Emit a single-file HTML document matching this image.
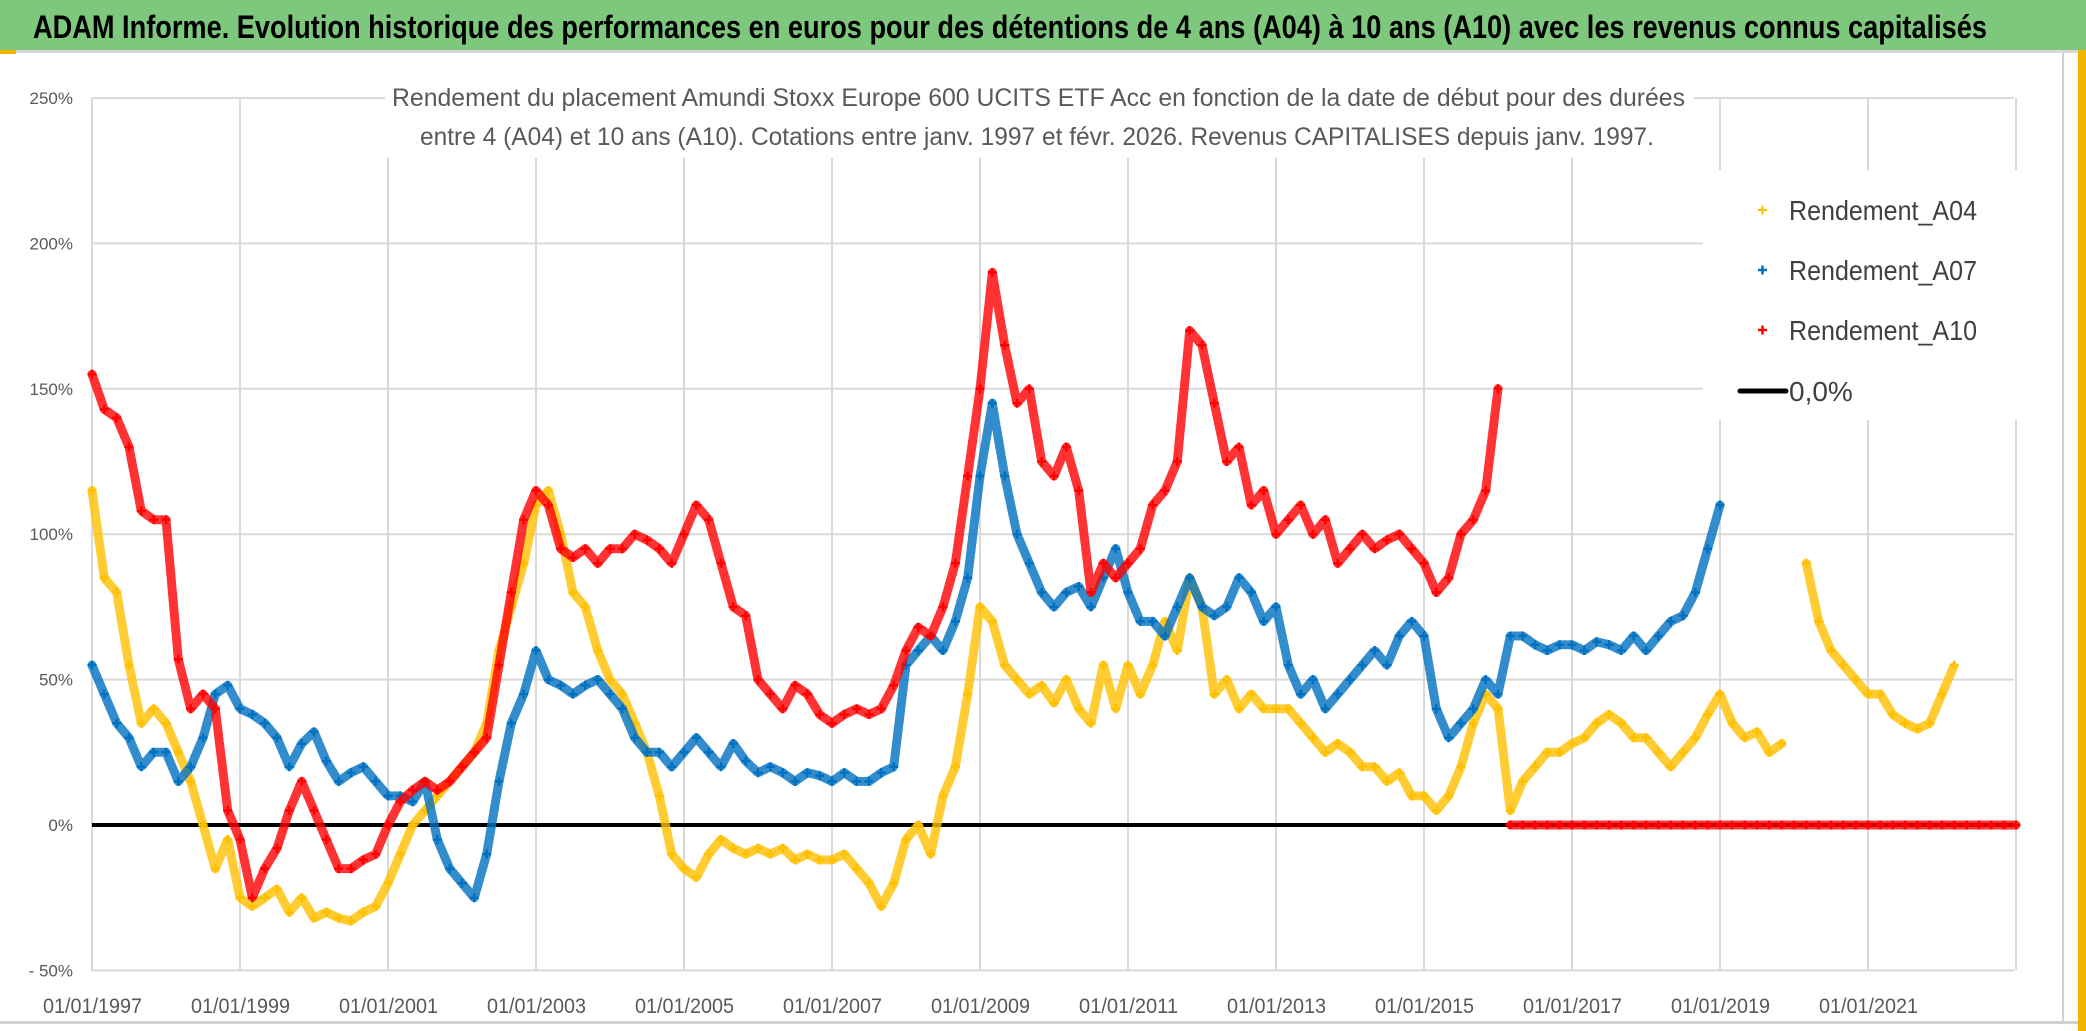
<!DOCTYPE html>
<html><head><meta charset="utf-8"><style>
html,body{margin:0;padding:0;background:#fff;}
svg{display:block;font-family:"Liberation Sans",sans-serif;}
</style></head><body>
<svg id="chart" width="2086" height="1031" viewBox="0 0 2086 1031" xmlns="http://www.w3.org/2000/svg">
<rect x="0" y="0" width="2086" height="1031" fill="#fff"/>
<rect x="0" y="0" width="2086" height="50" fill="#7dc87d"/>
<rect x="0" y="50" width="2086" height="3" fill="#d8d8d8"/>
<text x="33" y="38" font-size="32" font-weight="bold" fill="#000" textLength="1954" lengthAdjust="spacingAndGlyphs">ADAM Informe. Evolution historique des performances en euros pour des détentions de 4 ans (A04) à 10 ans (A10) avec les revenus connus capitalisés</text>
<rect x="2062" y="53" width="2" height="970" fill="#d0d0d0"/>
<rect x="0" y="1021" width="2086" height="3" fill="#d0d0d0"/>
<rect x="2078" y="50" width="8" height="981" fill="#f2b600"/>
<rect x="0" y="50" width="16" height="4" fill="#f2b600"/>
<g id="grid"></g>
<rect x="385" y="68" width="1309" height="90" fill="#fff"/>
<text x="392" y="106" font-size="25" fill="#595959" textLength="1293" lengthAdjust="spacingAndGlyphs">Rendement du placement Amundi Stoxx Europe 600 UCITS ETF Acc en fonction de la date de début pour des durées</text>
<text x="420" y="145" font-size="25" fill="#595959" textLength="1234" lengthAdjust="spacingAndGlyphs">entre 4 (A04) et 10 ans (A10). Cotations entre janv. 1997 et févr. 2026. Revenus CAPITALISES depuis janv. 1997.</text>
<g id="axes"></g>
<g id="series"></g>
<g id="legend">
<rect x="1703" y="170" width="330" height="250" fill="#fff"/>
<g><path d="M1758 210h9M1762.5 205.5v9" stroke="#ffc000" stroke-width="2"/><text x="1789" y="220" font-size="28" fill="#404040" textLength="188" lengthAdjust="spacingAndGlyphs">Rendement_A04</text></g>
<g><path d="M1758 270h9M1762.5 265.5v9" stroke="#0070c0" stroke-width="2.5"/><text x="1789" y="280" font-size="28" fill="#404040" textLength="188" lengthAdjust="spacingAndGlyphs">Rendement_A07</text></g>
<g><path d="M1758 330h9M1762.5 325.5v9" stroke="#ff0000" stroke-width="2.5"/><text x="1789" y="340" font-size="28" fill="#404040" textLength="188" lengthAdjust="spacingAndGlyphs">Rendement_A10</text></g>
<g><path d="M1740 391h46" stroke="#000" stroke-width="5" stroke-linecap="round"/><text x="1789" y="401" font-size="28" fill="#404040">0,0%</text></g>
</g>
</svg>
<script>
const yTickValues = [250, 200, 150, 100, 50, 0, -50];
const yTickLabels = ["250%", "200%", "150%", "100%", "50%", "0%", "- 50%"];
const xTickYears = [1997, 1999, 2001, 2003, 2005, 2007, 2009, 2011, 2013, 2015, 2017, 2019, 2021];
const xTickLabels = ["01/01/1997","01/01/1999","01/01/2001","01/01/2003","01/01/2005","01/01/2007","01/01/2009","01/01/2011","01/01/2013","01/01/2015","01/01/2017","01/01/2019","01/01/2021"];
const startYear = 1997;
const stepsPerYear = 6;
const rendementA04 = [
115,85,80,55,35,40, 35,25,15,0,-15,-5, -25,-28,-25,-22,-30,-25, -32,-30,-32,-33,-30,-28,
-20,-10,0,5,10,15, 20,25,35,60,75,90, 110,115,100,80,75,60, 50,45,35,25,10,-10,
-15,-18,-10,-5,-8,-10, -8,-10,-8,-12,-10,-12, -12,-10,-15,-20,-28,-20, -5,0,-10,10,20,45,
75,70,55,50,45,48, 42,50,40,35,55,40, 55,45,55,70,60,85, 75,45,50,40,45,40,
40,40,35,30,25,28, 25,20,20,15,18,10, 10,5,10,20,35,45, 40,5,15,20,25,25,
28,30,35,38,35,30, 30,25,20,25,30,38, 45,35,30,32,25,28, null,90,70,60,55,50,
45,45,38,35,33,35, 45,55];
const rendementA07 = [
55,45,35,30,20,25, 25,15,20,30,45,48, 40,38,35,30,20,28, 32,22,15,18,20,15,
10,10,8,15,-5,-15, -20,-25,-10,15,35,45, 60,50,48,45,48,50, 45,40,30,25,25,20,
25,30,25,20,28,22, 18,20,18,15,18,17, 15,18,15,15,18,20, 55,60,65,60,70,85,
120,145,120,100,90,80, 75,80,82,75,85,95, 80,70,70,65,75,85, 75,72,75,85,80,70,
75,55,45,50,40,45, 50,55,60,55,65,70, 65,40,30,35,40,50, 45,65,65,62,60,62,
62,60,63,62,60,65, 60,65,70,72,80,95, 110];
const rendementA10 = [
155,143,140,130,108,105, 105,57,40,45,40,5, -5,-25,-15,-8,5,15, 5,-5,-15,-15,-12,-10,
0,8,12,15,12,15, 20,25,30,55,80,105, 115,110,95,92,95,90, 95,95,100,98,95,90,
100,110,105,90,75,72, 50,45,40,48,45,38, 35,38,40,38,40,48, 60,68,65,75,90,120,
150,190,165,145,150,125, 120,130,115,80,90,85, 90,95,110,115,125,170, 165,145,125,130,110,115,
100,105,110,100,105,90, 95,100,95,98,100,95, 90,80,85,100,105,115, 150,0,0,0,0,0,
0,0,0,0,0,0, 0,0,0,0,0,0, 0,0,0,0,0,0, 0,0,0,0,0,0, 0,0,0,0,0,0, 0,0,0,0,0,0, 0];

const NS = "http://www.w3.org/2000/svg";
const X0 = 92, PX_PER_YEAR = 74, Y0 = 825, PX_PER_PCT = 2.908;
function xScale(t){ return X0 + (t - startYear) * PX_PER_YEAR; }
function yScale(v){ return Y0 - v * PX_PER_PCT; }
function mk(tag, attrs, parent){ const e = document.createElementNS(NS, tag); for (const k in attrs) e.setAttribute(k, attrs[k]); parent.appendChild(e); return e; }

const grid = document.getElementById('grid');
const axes = document.getElementById('axes');
const plotRight = 2014;
yTickValues.forEach((v, i) => {
  if (v === 0) return;
  const l = mk('line', {x1: X0, x2: plotRight, y1: yScale(v), y2: yScale(v), stroke: '#d9d9d9', 'stroke-width': 2}, grid);
  
  
});
xTickYears.concat([2023]).forEach(yr => {
  const l = mk('line', {x1: xScale(yr), x2: xScale(yr), y1: yScale(250), y2: yScale(-50), stroke: '#d9d9d9', 'stroke-width': 2}, grid);
  
  
});
yTickValues.forEach((v, i) => {
  const t = mk('text', {x: 73, y: yScale(v) + 6, 'font-size': 17, fill: '#595959', 'text-anchor': 'end'}, axes);
  t.textContent = yTickLabels[i];
  
  
});
xTickYears.forEach((yr, i) => {
  const t = mk('text', {x: xScale(yr) - 49, y: 1013, 'font-size': 21, fill: '#595959', textLength: 99, lengthAdjust: 'spacingAndGlyphs'}, axes);
  t.textContent = xTickLabels[i];
  
  
});

const seriesLayer = document.getElementById('series');
const zl = mk('line', {x1: X0, x2: plotRight, y1: yScale(0), y2: yScale(0), stroke: '#000', 'stroke-width': 4}, seriesLayer);



function drawSeries(values, color, name){
  const g = mk('g', {}, seriesLayer);
  
  
  let seg = [];
  let prev = null;
  const flush = () => {
    if (seg.length > 1) {
      const pl = mk('polyline', {points: seg.join(' '), fill: 'none', stroke: color, 'stroke-width': 9, 'stroke-opacity': 0.8, 'stroke-linejoin': 'round', 'stroke-linecap': 'round', 'stroke-dasharray': '3 2'}, g);
      
      
    }
    seg = [];
  };
  values.forEach((v, i) => {
    if (v === null) { flush(); prev = null; return; }
    if (prev !== null && Math.abs(v - prev) > 80) flush();
    seg.push(xScale(startYear + i / stepsPerYear).toFixed(1) + ',' + yScale(v).toFixed(1));
    prev = v;
  });
  flush();
  values.forEach((v, i) => {
    if (v === null) return;
    const x = xScale(startYear + i / stepsPerYear), y = yScale(v);
    const p = mk('path', {d: `M${(x-4.5).toFixed(1)} ${y.toFixed(1)}h9M${x.toFixed(1)} ${(y-4.5).toFixed(1)}v9`, stroke: color, 'stroke-width': 2.5}, g);
    
    
  });
}
drawSeries(rendementA04, '#ffc000', 'series-a04');
drawSeries(rendementA07, '#0070c0', 'series-a07');
drawSeries(rendementA10, '#ff0000', 'series-a10');
document.getElementById('chart').appendChild(document.getElementById('legend'));
</script>
</body></html>
